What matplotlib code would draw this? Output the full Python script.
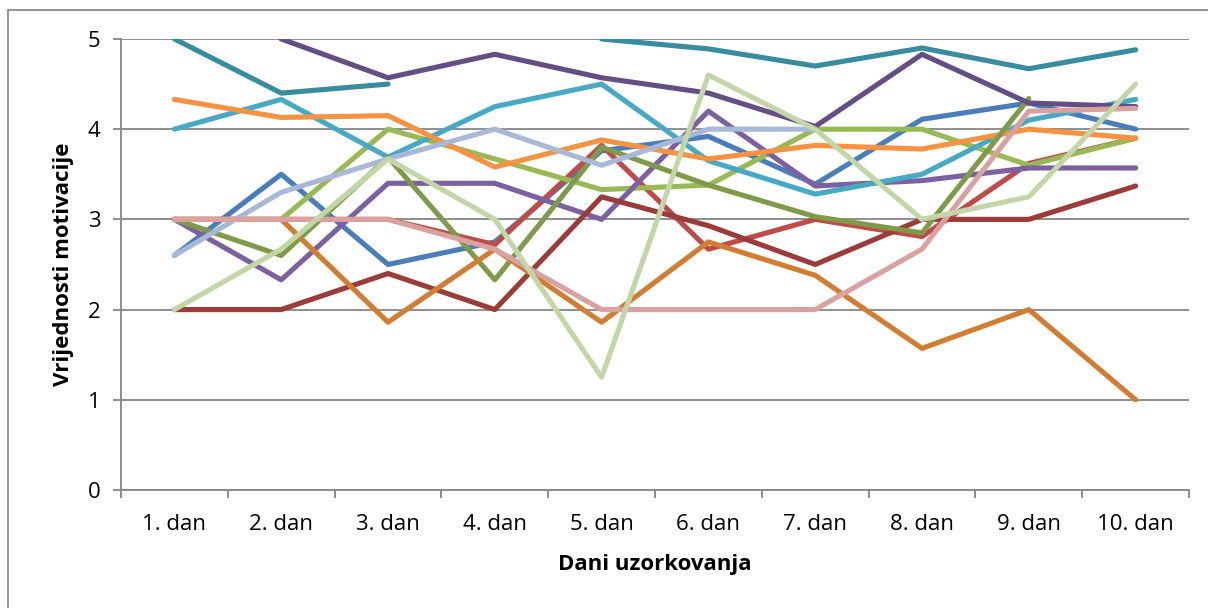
import numpy as np
import matplotlib
matplotlib.use("Agg")
import matplotlib.pyplot as plt
from matplotlib.patches import Rectangle

nan = np.nan

days = ["1. dan", "2. dan", "3. dan", "4. dan", "5. dan",
        "6. dan", "7. dan", "8. dan", "9. dan", "10. dan"]

# one list per respondent (Excel series order), nan = no value
blue = [2.6, 3.5, 2.5, 2.75, 3.76, 3.92, 3.39, 4.11, 4.29, 4.0]
red = [3.0, 3.0, 3.0, 2.72, 3.82, 2.67, 3.0, 2.81, 3.62, 3.9]
green = [3.0, 3.0, 4.0, 3.67, 3.33, 3.38, 4.0, 4.0, 3.6, 3.9]
purple = [3.0, 2.33, 3.4, 3.4, 3.0, 4.2, 3.37, 3.43, 3.57, 3.57]
aqua = [4.0, 4.33, 3.69, 4.25, 4.5, 3.65, 3.28, 3.5, 4.1, 4.33]
orange = [4.33, 4.13, 4.15, 3.58, 3.88, 3.67, 3.82, 3.78, 4.0, 3.9]
dark_red = [2.0, 2.0, 2.4, 2.0, 3.25, 2.93, 2.5, 3.0, 3.0, 3.37]
olive = [3.0, 2.6, 3.69, 2.33, 3.8, 3.38, 3.03, 2.85, 4.34, nan]
dark_purple = [nan, 5.0, 4.57, 4.83, 4.57, 4.4, 4.03, 4.83, 4.29, 4.25]
teal = [5.0, 4.4, 4.5, nan, 5.0, 4.89, 4.7, 4.9, 4.67, 4.88]
dark_orange = [3.0, 3.0, 1.86, 2.67, 1.86, 2.75, 2.38, 1.57, 2.0, 1.0]
light_blue = [2.6, 3.3, 3.67, 4.0, 3.6, 4.0, 4.0, nan, nan, nan]
pink = [3.0, 3.0, 3.0, 2.67, 2.0, 2.0, 2.0, 2.67, 4.2, 4.23]
light_green = [2.0, 2.67, 3.67, 3.0, 1.25, 4.6, 4.0, 3.0, 3.25, 4.5]

series = [
    (blue, "#4A7EBB"),
    (red, "#BE4B48"),
    (green, "#98B954"),
    (purple, "#7D60A0"),
    (aqua, "#46AAC5"),
    (orange, "#F69240"),
    (dark_red, "#9B3C39"),
    (olive, "#7F9A48"),
    (dark_purple, "#644E84"),
    (teal, "#378C9E"),
    (dark_orange, "#D17D32"),
    (light_blue, "#A7B9D6"),
    (pink, "#D9A2A1"),
    (light_green, "#C3D6A8"),
]

plt.rcParams['font.family'] = ['Open Sans', 'DejaVu Sans']

fig = plt.figure(figsize=(12.08, 6.08), dpi=100)
ax = fig.add_axes([0.1002, 0.1941, 0.8841, 0.7418])

# outer chart-area frame (only top/left visible in the crop)
fig.patches.append(Rectangle((8 / 1208, -0.1), 1.2, 1 - 10 / 608 + 0.1,
                             transform=fig.transFigure, fill=False,
                             edgecolor="#8C8C8C", linewidth=1.3))

x = np.arange(len(days))
for vals, col in series:
    ax.plot(x, vals, color=col, linewidth=3.7,
            solid_capstyle="round", solid_joinstyle="round", zorder=3)

ax.set_xlim(-0.5, len(days) - 0.5)
ax.set_ylim(0, 5)
ax.set_yticks(range(0, 6))
ax.set_xticks(x)
ax.set_xticklabels(days)
ax.set_xticks(np.arange(-0.5, len(days), 1.0), minor=True)

ax.grid(axis="y", color="#868686", linewidth=1.3, zorder=1)
ax.set_axisbelow(True)
for s in ["top", "right"]:
    ax.spines[s].set_visible(False)
for s in ["left", "bottom"]:
    ax.spines[s].set_color("#868686")
    ax.spines[s].set_linewidth(1.3)

ax.tick_params(axis="y", length=6, width=1.3, color="#868686",
               labelsize=16, pad=9)
ax.tick_params(axis="x", which="major", length=0, labelsize=16, pad=17)
ax.tick_params(axis="x", which="minor", length=6, width=1.3, color="#868686")

ax.set_ylabel("Vrijednosti motivacije", fontsize=16, fontweight="bold",
              labelpad=10)
ax.set_xlabel("Dani uzorkovanja", fontsize=16, fontweight="bold",
              labelpad=14)

fig.savefig("out.png", dpi=100)
